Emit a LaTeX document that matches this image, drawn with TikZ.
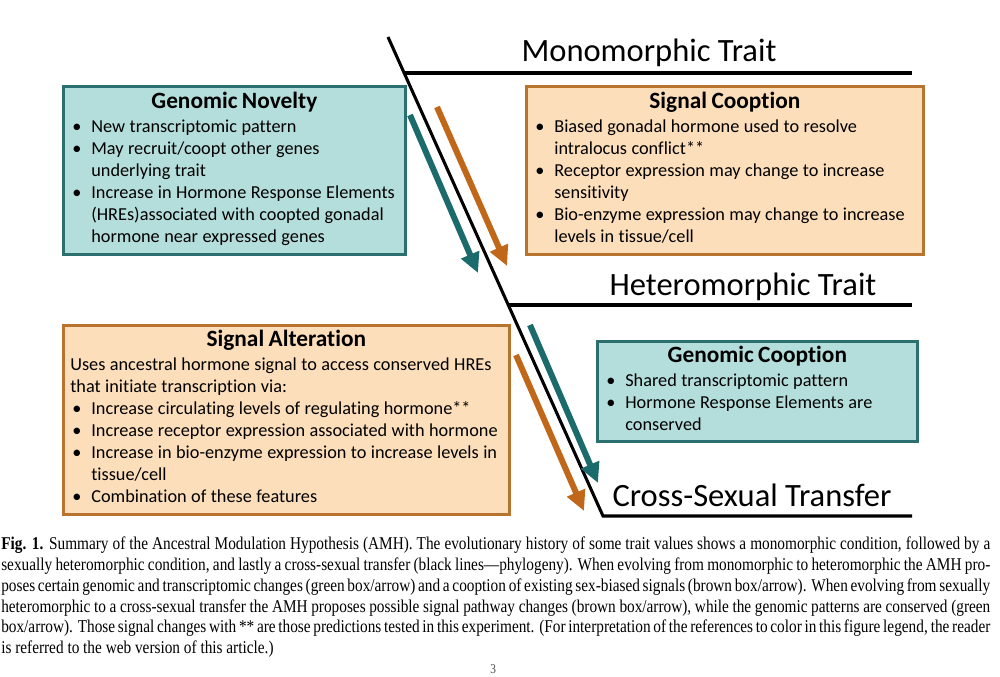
\documentclass[tikz,border=0pt]{standalone}
\usepackage{fontspec}
\setmainfont[Ligatures=NoCommon]{Carlito}
\newfontfamily\capfont[FakeStretch=0.85]{Liberation Serif}
\usetikzlibrary{arrows.meta}
\definecolor{tealfill}{HTML}{B4DEDB}
\definecolor{tealline}{HTML}{2B6F6E}
\definecolor{orfill}{HTML}{FCDEBA}
\definecolor{orline}{HTML}{B8732E}
\definecolor{tealarrow}{HTML}{1C6B6C}
\definecolor{brarrow}{HTML}{C0671A}
\newcommand{\boxhead}[1]{{\centering\fontsize{17.5}{21}\selectfont\bfseries #1\par}\vspace{2.5pt}}
\newcommand{\bodyfont}{\fontsize{13.7}{16.5}\selectfont}
\newenvironment{blist}{\noindent\bodyfont\begin{tabular}{@{\hspace{6.75pt}}p{14.25pt}@{}l@{}}}{\end{tabular}}
\newcommand{\plainrow}[1]{\multicolumn{2}{@{\hspace{5.25pt}}l@{}}{#1}}
\newcommand{\capline}[1]{\makebox[741.75pt][s]{#1}}
\begin{document}
\begin{tikzpicture}[x=0.75pt,y=-0.75pt,
  tbox/.style={draw=tealline, fill=tealfill, line width=2pt, inner sep=0pt, anchor=north west, align=left},
  obox/.style={draw=orline, fill=orfill, line width=2pt, inner sep=0pt, anchor=north west, align=left},
  phylo/.style={line width=2.3pt, black},
  trait/.style={font=\fontsize{24.4}{28}\selectfont, inner sep=0pt},
  tarrow/.style={line width=4.5pt, tealarrow, -{Triangle[length=15pt,width=14pt]}},
  barrow/.style={line width=4.5pt, brarrow, -{Triangle[length=15pt,width=14pt]}},
  capl/.style={anchor=base west, inner sep=0pt, font=\capfont\fontsize{13.5}{16}\selectfont}]
\useasboundingbox[fill=white] (0,0) rectangle (1000,677);

% phylogeny lines
\coordinate (top) at (388,37);
\coordinate (mono) at (404,73);
\coordinate (monoE) at (912,73);
\coordinate (het) at (508,305);
\coordinate (hetE) at (912,305);
\coordinate (bot) at (603,516);
\coordinate (botE) at (912,516);
\draw[phylo] (top) -- (bot) -- (botE);
\draw[phylo] (mono) -- (monoE);
\draw[phylo] (het) -- (hetE);

\node[trait] (tmono) at (649,53) {Monomorphic Trait};
\node[trait] (thet) at (743,287) {Heteromorphic Trait};
\node[trait] (tcross) at (752,495) {Cross-Sexual Transfer};

% boxes
\node[tbox, text width=256.5pt, minimum height=126pt] (gn) at (62,85) {%
\boxhead{Genomic Novelty}
\begin{blist}
\textbullet & New transcriptomic pattern\\
\textbullet & May recruit/coopt other genes\\
 & underlying trait\\
\textbullet & Increase in Hormone Response Elements\\
 & (HREs)associated with coopted gonadal\\
 & hormone near expressed genes
\end{blist}};

\node[obox, text width=297.75pt, minimum height=126pt] (sc) at (525,85) {%
\boxhead{Signal Cooption}
\begin{blist}
\textbullet & Biased gonadal hormone used to resolve\\
 & intralocus conflict**\\
\textbullet & Receptor expression may change to increase\\
 & sensitivity\\
\textbullet & Bio-enzyme expression may change to increase\\
 & levels in tissue/cell
\end{blist}};

\node[obox, text width=334.5pt, minimum height=141.75pt] (sa) at (62,324) {%
\boxhead{Signal Alteration}
\begin{blist}
\plainrow{Uses ancestral hormone signal to access conserved HREs}\\
\plainrow{that initiate transcription via:}\\
\textbullet & Increase circulating levels of regulating hormone**\\
\textbullet & Increase receptor expression associated with hormone\\
\textbullet & Increase in bio-enzyme expression to increase levels in\\
 & tissue/cell\\
\textbullet & Combination of these features
\end{blist}};

\node[tbox, text width=240pt, minimum height=75pt] (gc) at (596,340) {%
\boxhead{Genomic Cooption}
\begin{blist}
\textbullet & Shared transcriptomic pattern\\
\textbullet & Hormone Response Elements are\\
 & conserved
\end{blist}};

% arrows
\coordinate (t1s) at (410,115);
\coordinate (t1e) at (478,273);
\coordinate (b1s) at (437,107);
\coordinate (b1e) at (507,266);
\coordinate (t2s) at (530,325);
\coordinate (t2e) at (598,483);
\coordinate (b2s) at (516,355);
\coordinate (b2e) at (584,511);
\draw[tarrow] (t1s) -- (t1e);
\draw[barrow] (b1s) -- (b1e);
\draw[tarrow] (t2s) -- (t2e);
\draw[barrow] (b2s) -- (b2e);

% caption
\node[capl] (c1) at (1,549) {\capline{{\bfseries Fig. 1.} Summary of the Ancestral Modulation Hypothesis (AMH). The evolutionary history of some trait values shows a monomorphic condition, followed by a}};
\node[capl] (c2) at (1,570) {\capline{sexually heteromorphic condition, and lastly a cross-sexual transfer (black lines—phylogeny). When evolving from monomorphic to heteromorphic the AMH pro-}};
\node[capl] (c3) at (1,591) {\capline{poses certain genomic and transcriptomic changes (green box/arrow) and a cooption of existing sex-biased signals (brown box/arrow). When evolving from sexually}};
\node[capl] (c4) at (1,612) {\capline{heteromorphic to a cross-sexual transfer the AMH proposes possible signal pathway changes (brown box/arrow), while the genomic patterns are conserved (green}};
\node[capl] (c5) at (1,632) {\capline{box/arrow). Those signal changes with ** are those predictions tested in this experiment. (For interpretation of the references to color in this figure legend, the reader}};
\node[capl] (c6) at (1,653) {is referred to the web version of this article.)};
\node[capl, text=black!70, font=\capfont\fontsize{10}{12}\selectfont] (pg) at (490,673) {3};
\end{tikzpicture}
\end{document}
